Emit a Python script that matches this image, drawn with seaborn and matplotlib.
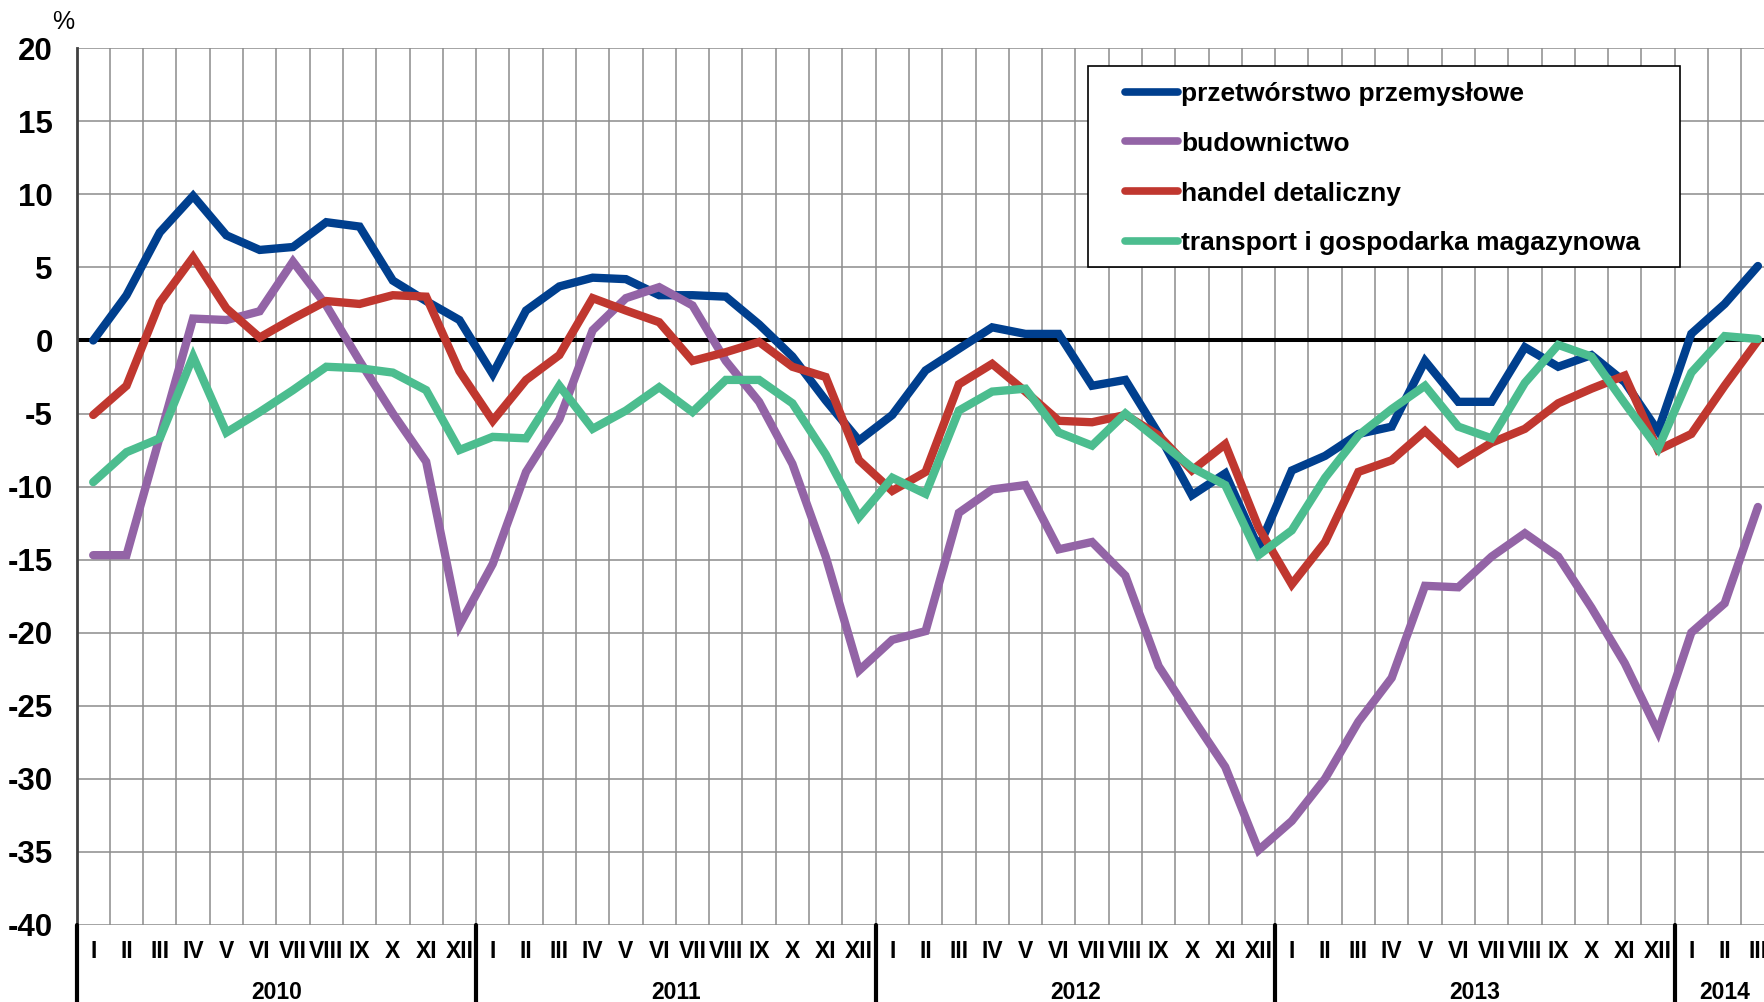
import numpy as np
import pandas as pd
import matplotlib
matplotlib.use("Agg")
import matplotlib.pyplot as plt
import matplotlib.patches as mpatches
import seaborn as sns

# ---- data ----
months = ["I", "II", "III", "IV", "V", "VI", "VII", "VIII", "IX", "X", "XI", "XII"] * 4 + ["I", "II", "III"]
years = ["2010", "2011", "2012", "2013", "2014"]
year_centers = [5.5, 17.5, 29.5, 41.5, 49.0]
year_bounds = [-0.5, 11.5, 23.5, 35.5, 47.5]

series_names = ["przetwórstwo przemysłowe", "budownictwo", "handel detaliczny",
                "transport i gospodarka magazynowa"]

przetworstwo = [0.0, 3.1, 7.4, 9.9, 7.2, 6.2, 6.4, 8.1, 7.8, 4.1, 2.7, 1.4,
                -2.3, 2.05, 3.7, 4.3, 4.2, 3.1, 3.1, 3.0, 1.1, -1.1, -4.1, -6.85,
                -5.1, -2.05, -0.57, 0.9, 0.45, 0.45, -3.1, -2.7, -6.4, -10.6, -9.1, -14.2,
                -8.9, -7.9, -6.4, -5.9, -1.4, -4.2, -4.2, -0.46, -1.8, -1.0, -2.85, -6.2,
                0.46, 2.5, 5.1]
budownictwo = [-14.7, -14.7, -6.6, 1.5, 1.4, 2.0, 5.4, 2.4, -1.4, -5.0, -8.3, -19.5,
               -15.3, -9.0, -5.4, 0.7, 2.9, 3.65, 2.4, -1.4, -4.2, -8.45, -14.8, -22.6,
               -20.5, -19.9, -11.8, -10.2, -9.9, -14.3, -13.8, -16.1, -22.3, -25.8, -29.2, -34.9,
               -32.9, -30.0, -26.1, -23.1, -16.8, -16.9, -14.8, -13.2, -14.8, -18.3, -22.1, -26.8,
               -20.0, -18.0, -11.4]
handel = [-5.1, -3.1, 2.6, 5.7, 2.2, 0.2, 1.5, 2.7, 2.5, 3.1, 3.0, -2.1,
          -5.5, -2.7, -1.0, 2.9, 2.05, 1.25, -1.4, -0.8, -0.1, -1.8, -2.5, -8.2,
          -10.3, -9.0, -3.0, -1.6, -3.5, -5.5, -5.6, -5.1, -6.5, -8.9, -7.1, -12.8,
          -16.7, -13.8, -9.0, -8.2, -6.2, -8.4, -7.0, -6.05, -4.3, -3.3, -2.4, -7.5,
          -6.4, -3.1, 0.0]
transport = [-9.7, -7.65, -6.7, -1.1, -6.3, -4.9, -3.4, -1.8, -1.9, -2.2, -3.4, -7.5,
             -6.6, -6.7, -3.1, -6.05, -4.8, -3.2, -4.9, -2.7, -2.7, -4.3, -7.8, -12.1,
             -9.4, -10.5, -4.8, -3.5, -3.3, -6.3, -7.2, -5.0, -6.85, -8.7, -9.9, -14.7,
             -13.0, -9.4, -6.5, -4.7, -3.1, -5.9, -6.7, -2.9, -0.3, -1.1, -4.3, -7.4,
             -2.2, 0.3, 0.1]

colors = ["#003F8E", "#9364A6", "#C0372F", "#4CBD8F"]

# ---- build long table ----
idx = np.arange(len(months))
frames = []
for name, vals in zip(series_names, [przetworstwo, budownictwo, handel, transport]):
    frames.append(pd.DataFrame({"idx": idx, "val": vals, "series": name}))
df = pd.concat(frames, ignore_index=True)

sns.set_style("white")
plt.rcParams["font.family"] = ["Liberation Sans", "DejaVu Sans"]
plt.rcParams["axes.unicode_minus"] = False
plt.rcParams["text.color"] = "black"
plt.rcParams["ytick.labelcolor"] = "black"
plt.rcParams["xtick.labelcolor"] = "black"

fig = plt.figure(figsize=(17.64, 10.02), dpi=100)
ax = fig.add_axes([0.0434, 0.0772, 0.9626, 0.8745])

sns.lineplot(data=df, x="idx", y="val", hue="series", hue_order=series_names,
             palette=colors, linewidth=6.0, sort=False, ax=ax, zorder=3,
             solid_capstyle="round", solid_joinstyle="miter")

ax.set_xlim(-0.5, len(months) - 0.5)
ax.set_ylim(-40, 20)
ax.set_xlabel("")
ax.set_ylabel("")

# grid
ax.set_xticks(np.arange(-0.5, len(months), 1), minor=True)
ax.set_xticks([])
ax.set_yticks(np.arange(-40, 21, 5))
ax.grid(which="minor", axis="x", color="#8c8c8c", linewidth=1.1, zorder=0)
ax.grid(which="major", axis="y", color="#8c8c8c", linewidth=1.1, zorder=0)
ax.tick_params(axis="x", which="both", length=0)
ax.tick_params(axis="y", which="major", length=9, width=1.2, color="#404040",
               direction="out", pad=8, labelsize=22.5, labelcolor="black")
for lab in ax.get_yticklabels():
    lab.set_fontweight("bold")
ax.yaxis.set_major_formatter(matplotlib.ticker.FuncFormatter(lambda v, p: f"{int(v)}"))

for s in ["top", "right", "bottom"]:
    ax.spines[s].set_visible(False)
ax.spines["left"].set_color("#404040")
ax.spines["left"].set_linewidth(2)

ax.axhline(0, color="black", linewidth=2.9, zorder=2)

# month labels and year labels
trans = matplotlib.transforms.blended_transform_factory(ax.transData, fig.transFigure)
for i, m in enumerate(months):
    ax.text(i, 0.0505, m, transform=trans, ha="center", va="center", color="black",
            fontsize=16.5, fontweight="bold", clip_on=False)
for yc, yl in zip(year_centers, years):
    ax.text(yc, 0.0095, yl, transform=trans, ha="center", va="center", color="black",
            fontsize=16.5, fontweight="bold", clip_on=False)
for xb in year_bounds:
    ax.plot([xb, xb], [0.0772, 0.0], transform=trans, color="black",
            linewidth=3, clip_on=False, zorder=5)

fig.text(0.036, 0.978, "%", fontsize=18, ha="center", va="center", color="black")

# legend (frame drawn separately, inside the axes so it sits under the legend)
box = mpatches.Rectangle((1088 / 1764, 1 - 267 / 1002), 592 / 1764, 201 / 1002,
                         transform=fig.transFigure, facecolor="white",
                         edgecolor="black", linewidth=1.2, zorder=6, clip_on=False)
ax.add_patch(box)
leg = ax.legend(loc="upper left", bbox_to_anchor=(0.6378, 0.9183),
                bbox_transform=fig.transFigure, frameon=False,
                handlelength=2.0, handletextpad=0.12,
                labelspacing=0.98, borderpad=0, borderaxespad=0,
                prop={"weight": "bold", "size": 19}, labelcolor="black")
leg.set_zorder(7)
for line in leg.get_lines():
    line.set_linewidth(5.5)
    line.set_solid_capstyle("round")

fig.savefig("out.png", dpi=100)
